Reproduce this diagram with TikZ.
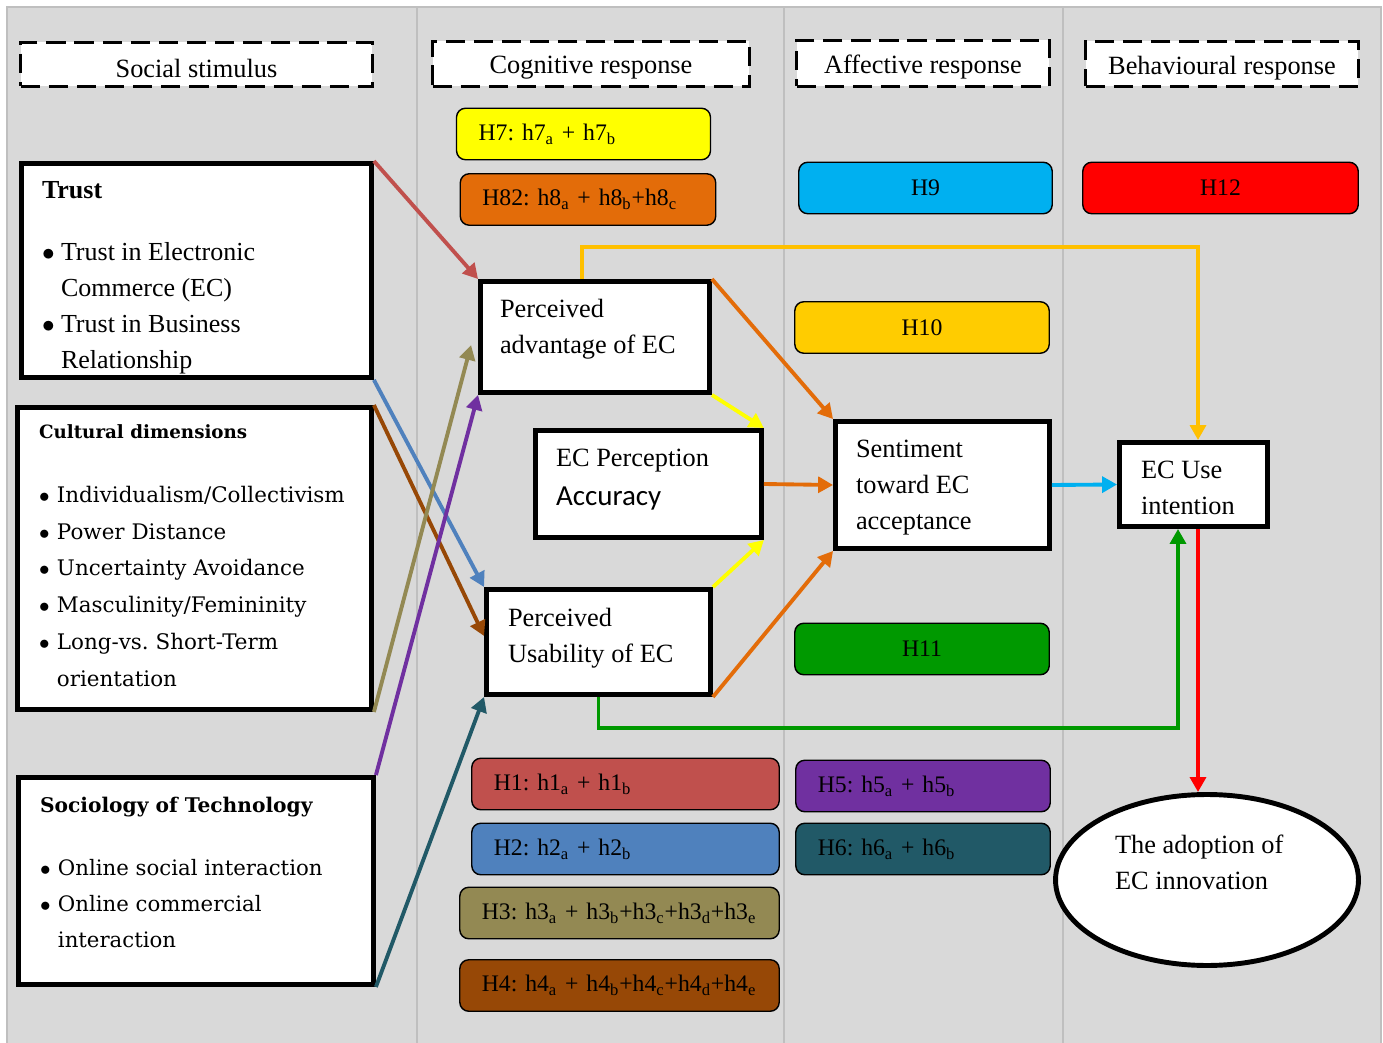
\documentclass[tikz,border=0pt]{standalone}
\usepackage{fontspec}
\setmainfont{Liberation Serif}
\newfontfamily\wideserif{DejaVu Serif}
\newfontfamily\calib{Carlito}
\usepackage{tikz}
\usetikzlibrary{arrows.meta, calc, positioning, shapes.geometric}
\definecolor{bggray}{HTML}{D9D9D9}
\definecolor{colline}{HTML}{BFBFBF}
\definecolor{hypyellow}{HTML}{FFFF00}
\definecolor{hyporange}{HTML}{E36C09}
\definecolor{hypcyan}{HTML}{00B0F0}
\definecolor{hypred}{HTML}{FF0000}
\definecolor{hypgold}{HTML}{FFCC00}
\definecolor{hypgreen}{HTML}{009900}
\definecolor{hypbrick}{HTML}{C0504D}
\definecolor{hypblue}{HTML}{4F81BD}
\definecolor{hypolive}{HTML}{938953}
\definecolor{hypbrown}{HTML}{974806}
\definecolor{hyppurple}{HTML}{7030A0}
\definecolor{hypteal}{HTML}{215967}
\definecolor{arrgold}{HTML}{FFC000}

\newcommand{\inbox}[3]{\parbox[c][#2][t]{#1}{#3}}
\newcommand{\itm}[1][10.8pt]{\makebox[#1][l]{$\bullet$}}
\newcommand{\hs}[2]{h#1\textsubscript{#2}}
\newcommand{\low}[1]{\raisebox{-2.2pt}[\height][\depth]{#1}}

\tikzset{
  blk/.style={draw, line width=2.8pt, fill=white, rectangle, inner sep=0pt},
  hyp/.style={draw, line width=0.8pt, rounded corners=0.18cm, minimum height=1.03cm,
    inner xsep=0.44cm, inner ysep=0pt, font=\fontsize{13.5}{16}\selectfont},
  hleft/.style={hyp, align=left, text width=#1},
  hmid/.style={hyp, align=center, minimum width=#1},
  stage/.style={draw, fill=white, line width=1.6pt, dash pattern=on 11pt off 5pt},
  link/.style={line width=2.2pt, -{Triangle[length=8.5pt,width=9pt]}},
}

\begin{document}
\frenchspacing
\begin{tikzpicture}[x=0.02cm, y=-0.02cm, font=\fontsize{15}{20.5}\selectfont]
  \useasboundingbox (0,0) rectangle (1383,1043);
  % backdrop and columns
  \fill[bggray] (7,7) rectangle (1381,1043);
  \draw[colline, line width=0.8pt] (7,1043) -- (7,7) -- (1381,7) -- (1381,1043);
  \foreach \cx in {417,784,1063}
    \draw[colline, line width=0.8pt] (\cx,7) -- (\cx,1043);

  % stage headers
  \node[stage, minimum width=7.04cm, minimum height=0.88cm] (social) at (196.5,64.5) {\low{Social stimulus}};
  \node[stage, minimum width=6.34cm, minimum height=0.9cm] (cognit) at (591,64) {\low{Cognitive response}};
  \node[stage, minimum width=5.06cm, minimum height=0.92cm] (affect) at (923,63.5) {\low{Affective response}};
  \node[stage, minimum width=5.46cm, minimum height=0.9cm] (behav) at (1222,64) {\low{Behavioural response}};

  % hypothesis tags
  \node[hleft=4.2cm, fill=hypyellow] (h7) at (583.5,134) {H7: \hs7a + \hs7b};
  \node[hleft=4.23cm, fill=hyporange] (h82) at (588,199.5) {H82: \hs8a + \hs8b+\hs8c};
  \node[hmid=5.07cm, fill=hypcyan] (h9) at (925.5,188) {H9};
  \node[hmid=5.51cm, fill=hypred] (h12) at (1220.5,188) {H12};
  \node[hmid=5.09cm, fill=hypgold] (h10) at (922,327.5) {H10};
  \node[hmid=5.09cm, fill=hypgreen] (h11) at (922,649) {H11};
  \node[hleft=5.27cm, fill=hypbrick] (h1) at (625.5,784) {H1: \hs1a + \hs1b};
  \node[hleft=5.27cm, fill=hypblue] (h2) at (625.5,849) {H2: \hs2a + \hs2b};
  \node[hleft=5.51cm, fill=hypolive] (h3) at (619.5,913) {H3: \hs3a + \hs3b+\hs3c+\hs3d+\hs3e};
  \node[hleft=5.51cm, fill=hypbrown] (h4) at (619.5,985.5) {H4: \hs4a + \hs4b+\hs4c+\hs4d+\hs4e};
  \node[hleft=4.21cm, fill=hyppurple] (h5) at (923,786) {H5: \hs5a + \hs5b};
  \node[hleft=4.21cm, fill=hypteal] (h6) at (923,849) {H6: \hs6a + \hs6b};

  % stimulus boxes
  \node[blk, inner xsep=0.41cm, inner ysep=0.35cm, font=\fontsize{14.8}{20.5}\selectfont] (trust) at (196.5,270.5)
    {\inbox{6.18cm}{3.58cm}{\textbf{Trust}\\[15pt]
      \itm Trust in Electronic\\ \hspace*{10.8pt}Commerce (EC)\\
      \itm Trust in Business\\ \hspace*{10.8pt}Relationship}};
  \node[blk, inner xsep=0.43cm, inner ysep=0.35cm, font=\wideserif\fontsize{12.2}{21}\selectfont] (cult) at (194.5,558.5)
    {\inbox{6.22cm}{5.34cm}{{\fontsize{10.4}{13}\selectfont\bfseries Cultural dimensions}\\[15pt]
      \itm[10.2pt]Individualism/Collectivism\\ \itm[10.2pt]Power Distance\\
      \itm[10.2pt]Uncertainty Avoidance\\ \itm[10.2pt]Masculinity/Femininity\\
      \itm[10.2pt]Long-vs. Short-Term\\ \hspace*{10.2pt}orientation}};
  \node[blk, inner xsep=0.43cm, inner ysep=0.39cm, font=\wideserif\fontsize{12.1}{20.7}\selectfont] (soc) at (196,881)
    {\inbox{6.24cm}{3.36cm}{{\fontsize{11.5}{13}\selectfont\bfseries Sociology of Technology}\\[15pt]
      \itm[10.2pt]Online social interaction\\ \itm[10.2pt]Online commercial\\
      \hspace*{10.2pt}interaction}};

  % response boxes
  \node[blk, inner xsep=0.39cm, inner ysep=0.35cm] (pa) at (595,337)
    {\inbox{3.8cm}{1.52cm}{Perceived\\advantage of EC}};
  \node[blk, inner xsep=0.41cm, inner ysep=0.37cm] (epa) at (648.5,484)
    {\inbox{3.7cm}{1.4cm}{EC Perception\\[1.5pt]{\calib\fontsize{16.5}{20}\selectfont Accuracy}}};
  \node[blk, inner xsep=0.43cm, inner ysep=0.37cm] (pu) at (598.5,642)
    {\inbox{3.62cm}{1.36cm}{Perceived\\Usability of EC}};
  \node[blk, inner xsep=0.41cm, inner ysep=0.37cm] (se) at (942.5,485)
    {\inbox{3.46cm}{1.8cm}{Sentiment\\toward EC\\acceptance}};
  \node[blk, inner xsep=0.43cm, inner ysep=0.37cm] (ui) at (1193.5,484.5)
    {\inbox{2.1cm}{0.94cm}{EC Use\\intention}};
  \node[draw, ellipse, line width=2.8pt, fill=white, inner sep=0pt,
    minimum width=6.06cm, minimum height=3.42cm] (adopt) at (1207,880)
    {\inbox{3.68cm}{1.8cm}{The adoption of\\EC innovation}};

  % links from the stimuli
  \draw[link, hypbrick] (trust.north east) -- (pa.north west);
  \draw[link, hypblue] (trust.south east) -- (pu.north west);
  \draw[link, hypbrown] (cult.north east) -- ($(pu.west)+(0,-6)$);
  \draw[link, hypolive] (cult.south east) -- ($(pa.west)+(-7,8)$);
  \draw[link, hyppurple] (soc.north east) -- (pa.south west);
  \draw[link, hypteal] (soc.south east) -- (pu.south west);

  % links between responses
  \draw[link, hypyellow] (pa.south east) -- (epa.north east);
  \draw[link, hypyellow] (pu.north east) -- (epa.south east);
  \draw[link, hyporange] (pa.north east) -- (se.north west);
  \draw[link, hyporange] (epa.east) -- (se.west);
  \draw[link, hyporange] (pu.south east) -- (se.south west);
  \draw[link, hypcyan] (se.east) -- (ui.west);

  \coordinate (gtop) at (1198,247);
  \coordinate (gbot) at (1178,728);
  \draw[link, arrgold] ($(pa.north)+(-13,0)$) |- (gtop) -- (gtop |- ui.north);
  \draw[link, hypgreen] (pu.south) |- (gbot) -- (gbot |- ui.south);
  \draw[link, hypred] (gtop |- ui.south) -- (gtop |- adopt.north);
\end{tikzpicture}
\end{document}
